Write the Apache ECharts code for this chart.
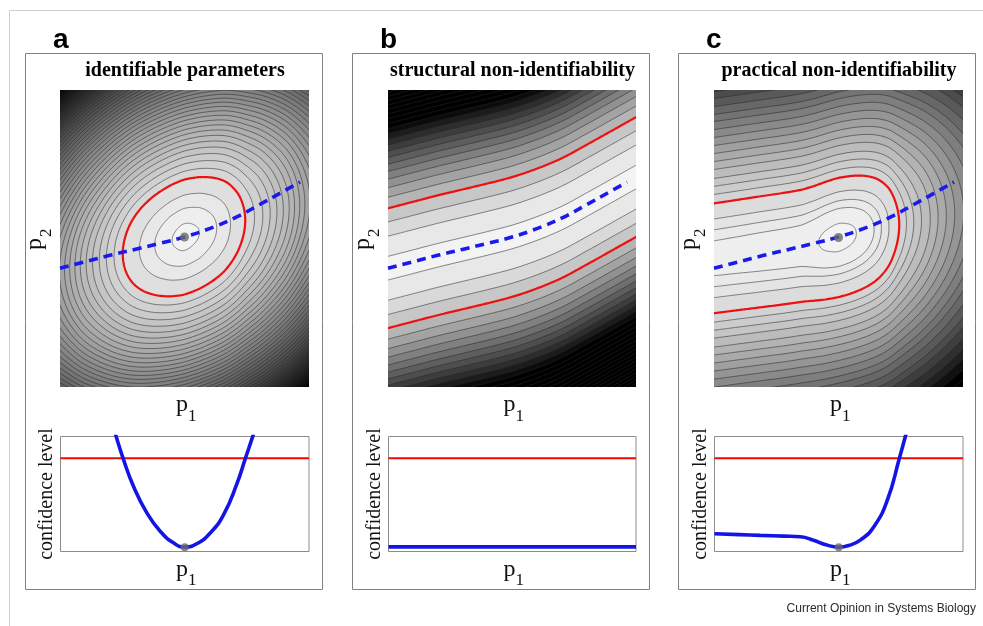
<!DOCTYPE html>
<html>
<head>
<meta charset="utf-8">
<script src="https://cdn.jsdelivr.net/npm/echarts/dist/echarts.min.js"></script>
<style>
  html, body { margin: 0; padding: 0; background: #fff; }
  #chart { width: 983px; height: 626px; }
</style>
</head>
<body>
<div id="chart"></div>
<script>
// ---- values ----
var P1_MAX = 5, P2_MAX = 6, CONF_MAX = 100;
var THRESHOLD = 81;               // red line = red contour level

// profile path (blue dashed), same in all three panels
var pathP1 = [0, 0.5, 1.0, 1.5, 2.0, 2.5, 3.0, 3.5, 4.0, 4.5, 4.82];
var pathP2 = [2.40, 2.53, 2.66, 2.78, 2.90, 3.03, 3.20, 3.41, 3.68, 3.96, 4.14];

// axis of the elliptic landscape (panel a), through the red contour's left/right extremes
var valleyAP1 = [0, 5];
var valleyAP2 = [2.34, 3.72];

// valley of the practical non-identifiable landscape (panel c)
var valleyCP1 = [0, 0.5, 1.0, 1.5, 2.0, 2.5, 3.0, 3.5, 4.0, 4.5, 5.0];
var valleyCP2 = [2.60, 2.67, 2.74, 2.81, 2.90, 3.02, 3.13, 3.23, 3.33, 3.43, 3.53];

// optimum (grey dot)
var optA = [2.5, 3.03];
var optC = [2.5, 3.02];

// profile likelihoods (bottom plots), confidence level axis 0..100
var profAP1 = [0, 0.5, 1.0, 1.12, 1.26, 1.47, 1.74, 2.01, 2.28, 2.5, 2.74, 3.01, 3.28, 3.55, 3.72, 3.86, 4.0, 4.5, 5.0];
var profAVal = [318, 206, 118, 100, 81, 56.5, 33.4, 17.4, 7.3, 3.8, 6.7, 16, 31.9, 59, 81, 99, 118, 204, 316];
var profBP1 = [0, 1, 2, 3, 4, 5];
var profBVal = [4, 4, 4, 4, 4, 4];
var profCP1 = [0, 0.5, 0.92, 1.4, 1.73, 1.99, 2.26, 2.5, 2.7, 2.94, 3.21, 3.48, 3.72, 3.87, 4.2, 4.6, 5.0];
var profCVal = [15.4, 14.7, 14.0, 13.4, 12.8, 9.8, 5.6, 3.8, 5.2, 10.1, 21.7, 45, 81, 105, 160, 240, 330];

// contour levels of the three landscapes
var levelsA = [8, 23, 45, 81, 105, 129, 153, 177, 201, 225, 249, 273, 297, 321, 345, 369, 393, 417, 441,
  465, 489, 513, 537, 561, 585, 609, 633, 657, 681, 705, 729, 753, 777, 801, 825, 849, 873, 897, 921, 945, 969, 993, 1017, 1041, 1065];
var levelsB = [7, 26, 50, 81, 112, 143, 174, 205, 236, 267, 298, 329, 360, 391, 422, 453, 484, 515, 546, 577,
  608, 639, 670, 701, 732, 763, 794, 825, 856, 887, 918, 949, 980];
var levelsC = [8, 22, 33, 49, 81, 104, 128, 154, 187, 219, 254, 292, 333, 376, 422, 465, 516, 571, 620, 680,
  741, 800, 870, 940, 1010];

var titles = ['identifiable parameters', 'structural non-identifiability', 'practical non-identifiability'];
var letters = ['a', 'b', 'c'];

// ---- helpers ----
// monotone cubic (pchip) through read points, linear outside
function pchip(xs, ys) {
  var n = xs.length, h = [], d = [], m = [];
  for (var i = 0; i < n - 1; i++) { h[i] = xs[i + 1] - xs[i]; d[i] = (ys[i + 1] - ys[i]) / h[i]; }
  m[0] = d[0]; m[n - 1] = d[n - 2];
  for (i = 1; i < n - 1; i++) {
    if (d[i - 1] * d[i] <= 0) m[i] = 0;
    else {
      var w1 = 2 * h[i] + h[i - 1], w2 = h[i] + 2 * h[i - 1];
      m[i] = (w1 + w2) / (w1 / d[i - 1] + w2 / d[i]);
    }
  }
  return function (x) {
    if (x <= xs[0]) return ys[0] + m[0] * (x - xs[0]);
    if (x >= xs[n - 1]) return ys[n - 1] + m[n - 1] * (x - xs[n - 1]);
    var k = 0;
    while (x > xs[k + 1]) k++;
    var t = (x - xs[k]) / h[k], t2 = t * t, t3 = t2 * t;
    return (2 * t3 - 3 * t2 + 1) * ys[k] + (t3 - 2 * t2 + t) * h[k] * m[k] +
      (-2 * t3 + 3 * t2) * ys[k + 1] + (t3 - t2) * h[k] * m[k + 1];
  };
}

// landscape = profile(p1) + k * (p2 - valley(p1))^2 ; region below a level
function regions(level, gf, cf, k) {
  var N = 500, x0 = -0.05, x1 = P1_MAX + 0.05, out = [];
  var start = null, px = null, pg = null;
  for (var i = 0; i <= N; i++) {
    var x = x0 + (x1 - x0) * i / N, g = gf(x), inside = g <= level;
    if (inside && start === null) start = i === 0 ? x : px + (level - pg) / (g - pg) * (x - px);
    if (!inside && start !== null) { out.push([start, px + (level - pg) / (g - pg) * (x - px)]); start = null; }
    px = x; pg = g;
  }
  if (start !== null) out.push([start, x1]);
  return out.map(function (iv) {
    var a = iv[0], b = iv[1], M = 160, up = [], lo = [];
    for (var j = 0; j <= M; j++) {
      var xx = (a + b) / 2 - (b - a) / 2 * Math.cos(Math.PI * j / M);
      var dv = Math.sqrt(Math.max(0, level - gf(xx)) / k), c = cf(xx);
      up.push([xx, c + dv]); lo.push([xx, c - dv]);
    }
    return up.concat(lo.reverse());
  });
}

function grayOf(v, s) {
  var ln = Math.max(0, (v - s.vmin) / (THRESHOLD - s.vmin));
  var c = Math.round(Math.max(0, Math.min(246, 246 - s.A * Math.sqrt(ln) - s.B * ln)));
  return 'rgb(' + c + ',' + c + ',' + c + ')';
}

var panels = [
  { levels: levelsA, g: pchip(profAP1, profAVal), c: pchip(valleyAP1, valleyAP2), k: 57.4,
    shade: { vmin: 3.8, A: 14.4, B: 13.5 }, prof: [profAP1, profAVal], opt: optA },
  { levels: levelsB, g: pchip(profBP1, profBVal), c: pchip(pathP1, pathP2), k: 52.6,
    shade: { vmin: 4, A: 20, B: 36 }, prof: [profBP1, profBVal], opt: null },
  { levels: levelsC, g: pchip(profCP1, profCVal), c: pchip(valleyCP1, valleyCP2), k: 53.3,
    shade: { vmin: 3.8, A: 14.4, B: 17 }, prof: [profCP1, profCVal], opt: optC }
];

var heatLeft = [60, 388, 714], heatWidth = [249, 248, 249];
var boxLeft = [25, 352, 678];
var serif = "'Liberation Serif', 'Times New Roman', serif";
var sans = "'Liberation Sans', Arial, sans-serif";

var grids = [], xAxes = [], yAxes = [], series = [], graphics = [];

panels.forEach(function (p, i) {
  var top = p.levels[p.levels.length - 1];
  grids.push({ left: heatLeft[i], top: 90, width: heatWidth[i], height: 297, show: true,
    backgroundColor: grayOf(top + 30, p.shade), borderWidth: 0 });
  xAxes.push({ type: 'value', gridIndex: i, min: 0, max: P1_MAX, show: false });
  yAxes.push({ type: 'value', gridIndex: i, min: 0, max: P2_MAX, show: false });

  var items = p.levels.map(function (v, j) {
    return [0, 0, v, j === 0 ? (p.shade.vmin + v) / 2 : (p.levels[j - 1] + v) / 2];
  }).reverse();

  function contourSeries(data, mode, z) {
    return {
      type: 'custom', xAxisIndex: i, yAxisIndex: i, clip: true, silent: true, z: z,
      data: data,
      renderItem: function (params, api) {
        var lev = api.value(2), mid = api.value(3);
        var polys = regions(lev, p.g, p.c, p.k);
        return {
          type: 'group',
          children: polys.map(function (pts) {
            var style;
            if (mode === 'fill') style = { fill: grayOf(mid, p.shade), stroke: null };
            else if (mode === 'line') style = { fill: 'none', stroke: '#262626', lineWidth: 0.55 };
            else style = { fill: 'none', stroke: '#ee1111', lineWidth: 2.2 };
            return { type: 'polygon', shape: { points: pts.map(function (q) { return api.coord(q); }) }, style: style };
          })
        };
      }
    };
  }
  series.push(contourSeries(items, 'fill', 1));
  series.push(contourSeries(items, 'line', 2));
  series.push(contourSeries([[0, 0, THRESHOLD, THRESHOLD]], 'red', 3));

  series.push({
    type: 'line', xAxisIndex: i, yAxisIndex: i, z: 4, smooth: true, showSymbol: false, silent: true,
    data: pathP1.map(function (x, j) { return [x, pathP2[j]]; }),
    lineStyle: { color: '#1a1aee', width: 3.6, type: [9, 6], cap: 'butt' }
  });
  if (p.opt) {
    series.push({ type: 'scatter', xAxisIndex: i, yAxisIndex: i, z: 5, silent: true,
      data: [p.opt], symbolSize: 9, itemStyle: { color: '#6a6a6a' } });
  }
});

panels.forEach(function (p, i) {
  var gi = 3 + i;
  grids.push({ left: heatLeft[i] + 0.5, top: 436.5, width: heatWidth[i] - 0.5, height: 115, show: true,
    backgroundColor: '#fff', borderColor: '#8c8c8c', borderWidth: 1 });
  xAxes.push({ type: 'value', gridIndex: gi, min: 0, max: P1_MAX, show: false });
  yAxes.push({ type: 'value', gridIndex: gi, min: 0, max: CONF_MAX, show: false });
  series.push({
    type: 'line', xAxisIndex: gi, yAxisIndex: gi, z: 3, showSymbol: false, silent: true,
    data: [[0, THRESHOLD], [P1_MAX, THRESHOLD]],
    lineStyle: { color: '#ff0000', width: 2 }
  });
  series.push({
    type: 'line', xAxisIndex: gi, yAxisIndex: gi, z: 4, showSymbol: false, silent: true,
    smooth: 0.5,
    data: p.prof[0].map(function (x, j) { return [x, p.prof[1][j]]; }),
    lineStyle: { color: '#1414e6', width: 3.6 }
  });
  if (p.opt) {
    var jmin = p.prof[1].indexOf(Math.min.apply(null, p.prof[1]));
    series.push({ type: 'scatter', xAxisIndex: gi, yAxisIndex: gi, z: 5, silent: true,
      data: [[p.prof[0][jmin], p.prof[1][jmin]]], symbolSize: 8, itemStyle: { color: '#6a6a6a' } });
  }
});

// ---- frames and texts ----
graphics.push({ type: 'line', shape: { x1: 9.5, y1: 10.5, x2: 983, y2: 10.5 }, style: { stroke: '#cfcfcf', lineWidth: 1 } });
graphics.push({ type: 'line', shape: { x1: 9.5, y1: 10.5, x2: 9.5, y2: 626 }, style: { stroke: '#cfcfcf', lineWidth: 1 } });

function pText(x, y, sub) {
  return [
    { type: 'text', x: x, y: y, style: { text: 'p', font: '24px ' + serif, fill: '#111', textAlign: 'left', textVerticalAlign: 'middle' } },
    { type: 'text', x: x + 12, y: y + 11.5, style: { text: sub, font: '17px ' + serif, fill: '#111', textAlign: 'left', textVerticalAlign: 'middle' } }
  ];
}

panels.forEach(function (p, i) {
  var cx = heatLeft[i] + heatWidth[i] / 2;
  graphics.push({ type: 'rect', shape: { x: boxLeft[i] + 0.5, y: 53.5, width: 297, height: 536 },
    style: { fill: 'none', stroke: '#808080', lineWidth: 1 } });
  graphics.push({ type: 'text', x: boxLeft[i] + 28, y: 40,
    style: { text: letters[i], font: 'bold 28px ' + sans, fill: '#000', textAlign: 'left', textVerticalAlign: 'middle' } });
  graphics.push({ type: 'text', x: cx + 0.5, y: 70.5,
    style: { text: titles[i], font: 'bold 20px ' + serif, fill: '#000', textAlign: 'center', textVerticalAlign: 'middle' } });
  // p1 under landscape and under profile
  graphics = graphics.concat(pText(cx - 8.5, 404.6, '1'));
  graphics = graphics.concat(pText(cx - 8.5, 569.5, '1'));
  // p2 rotated
  graphics.push({
    type: 'group', x: heatLeft[i] - 17.3, y: 236, rotation: Math.PI / 2,
    children: [
      { type: 'text', x: -14, y: -8.2, style: { text: 'p', font: '24px ' + serif, fill: '#111', textAlign: 'left', textVerticalAlign: 'middle' } },
      { type: 'text', x: -1, y: 4.3, style: { text: '2', font: '17px ' + serif, fill: '#111', textAlign: 'left', textVerticalAlign: 'middle' } }
    ]
  });
  graphics.push({ type: 'text', x: heatLeft[i] - 13.3, y: 494, rotation: Math.PI / 2,
    style: { text: 'confidence level', font: '20px ' + serif, fill: '#111', textAlign: 'center', textVerticalAlign: 'middle' } });
});

graphics.push({ type: 'text', x: 976, y: 609,
  style: { text: 'Current Opinion in Systems Biology', font: '12px ' + sans, fill: '#2a2a2a', textAlign: 'right', textVerticalAlign: 'middle' } });

var chart = echarts.init(document.getElementById('chart'));
chart.setOption({
  animation: false,
  backgroundColor: '#fff',
  grid: grids,
  xAxis: xAxes,
  yAxis: yAxes,
  series: series,
  graphic: { elements: graphics }
});
</script>
</body>
</html>
